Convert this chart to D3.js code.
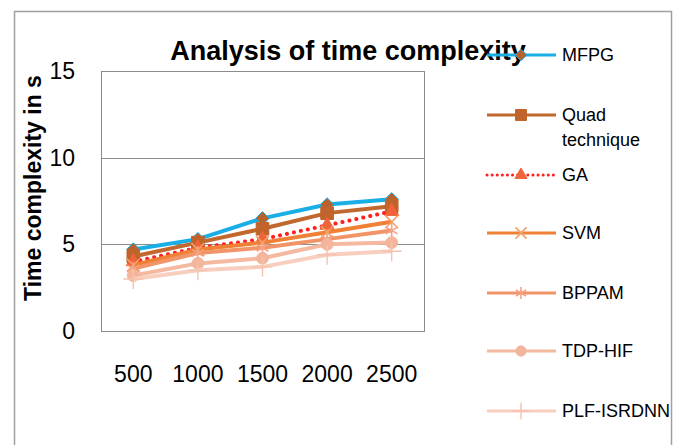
<!DOCTYPE html>
<html>
<head>
<meta charset="utf-8">
<script src="https://cdn.jsdelivr.net/npm/d3@7"></script>
<style>
body { margin: 0; background: #fff; }
text { font-family: "Liberation Sans", Arial, sans-serif; fill: #000; }
</style>
</head>
<body>
<script>
// data
var sizes = ["500", "1000", "1500", "2000", "2500"];
var yTicks = [0, 5, 10, 15];
var mfpg = [4.7, 5.3, 6.5, 7.3, 7.6];
var quad = [4.3, 5.1, 5.9, 6.8, 7.2];
var ga = [4.0, 4.8, 5.3, 6.1, 6.9];
var svm = [3.8, 4.7, 5.1, 5.7, 6.3];
var bppam = [3.6, 4.5, 4.8, 5.3, 5.8];
var tdphif = [3.2, 3.9, 4.2, 5.0, 5.1];
var plf = [3.0, 3.5, 3.7, 4.4, 4.6];
var seriesNames = ["MFPG", "Quad technique", "GA", "SVM", "BPPAM", "TDP-HIF", "PLF-ISRDNN"];

var W = 675, H = 445;
var plotL = 101, plotR = 424, plotT = 71, plotB = 331;

var svg = d3.select("body").append("svg").attr("width", W).attr("height", H);

// outer chart border
svg.append("rect").attr("x", 14.5).attr("y", 11.5).attr("width", 657).attr("height", 450)
   .attr("fill", "none").attr("stroke", "#a0a0a0").attr("stroke-width", 1.5);

var x = d3.scaleBand().domain(sizes).range([plotL, plotR]).padding(0);
var y = d3.scaleLinear().domain([0, 15]).range([plotB, plotT]);
var cx = function(d, i) { return x(sizes[i]) + x.bandwidth() / 2; };

// gridlines + plot box
svg.append("g").selectAll("line").data(yTicks).enter().append("line")
   .attr("x1", plotL).attr("x2", plotR)
   .attr("y1", function(d) { return Math.round(y(d)) + 0.5; })
   .attr("y2", function(d) { return Math.round(y(d)) + 0.5; })
   .attr("stroke", "#8c8c8c").attr("stroke-width", 1);
svg.append("line").attr("x1", plotL + 0.5).attr("x2", plotL + 0.5).attr("y1", plotT).attr("y2", plotB + 1)
   .attr("stroke", "#8c8c8c");
svg.append("line").attr("x1", plotR + 0.5).attr("x2", plotR + 0.5).attr("y1", plotT).attr("y2", plotB + 1)
   .attr("stroke", "#8c8c8c");

// axes
var yAxis = svg.append("g").attr("transform", "translate(" + plotL + ",0)")
   .call(d3.axisLeft(y).tickValues(yTicks).tickSize(0).tickPadding(26));
yAxis.select(".domain").remove();
yAxis.selectAll("text").style("font-size", "23px").attr("fill", "#000")
     .style("font-family", "'Liberation Sans', Arial, sans-serif");

var xAxis = svg.append("g").attr("transform", "translate(0," + plotB + ")")
   .call(d3.axisBottom(x).tickSize(0).tickPadding(35));
xAxis.select(".domain").remove();
xAxis.selectAll("text").style("font-size", "23px").attr("fill", "#000")
     .style("font-family", "'Liberation Sans', Arial, sans-serif");

// titles
svg.append("text").attr("x", 348).attr("y", 60).attr("text-anchor", "middle")
   .style("font-size", "27px").style("font-weight", "bold").text("Analysis of time complexity");
svg.append("text").attr("transform", "translate(41,188) rotate(-90)").attr("text-anchor", "middle")
   .style("font-size", "23px").style("font-weight", "bold").text("Time complexity in s");

var series = [
  { name: seriesNames[0], values: mfpg, line: "#1aaee6", dash: null, sym: d3.symbolDiamond2, size: 115, fill: "#b8622c", stroke: "#1aaee6", sw: 1 },
  { name: seriesNames[1], values: quad, line: "#c0682e", dash: null, sym: d3.symbolSquare, size: 160, fill: "#c0642b", stroke: "#c0642b", sw: 1 },
  { name: seriesNames[2], values: ga, line: "#ff2020", dash: "0.1 7", sym: d3.symbolTriangle, size: 85, fill: "#f0643a", stroke: "#f0643a", sw: 1 },
  { name: seriesNames[3], values: svm, line: "#ef8036", dash: null, sym: d3.symbolX, size: 110, fill: "none", stroke: "#f4a06a", sw: 1.6 },
  { name: seriesNames[4], values: bppam, line: "#f19468", dash: null, sym: d3.symbolAsterisk, size: 130, fill: "none", stroke: "#f4a282", sw: 1.6 },
  { name: seriesNames[5], values: tdphif, line: "#f5b9a0", dash: null, sym: d3.symbolCircle, size: 110, fill: "#f3b69c", stroke: "#f3b69c", sw: 1 },
  { name: seriesNames[6], values: plf, line: "#f8cfbf", dash: null, sym: d3.symbolPlus, size: 130, fill: "none", stroke: "#f6c2ae", sw: 1.4 }
];

var lineGen = d3.line().x(cx).y(function(d) { return y(d); });

series.forEach(function(s) {
  var g = svg.append("g");
  g.append("path").datum(s.values).attr("d", lineGen)
   .attr("fill", "none").attr("stroke", s.line).attr("stroke-width", 4)
   .attr("stroke-linecap", s.dash ? "round" : "butt")
   .attr("stroke-dasharray", s.dash);
  g.selectAll("path.mark").data(s.values).enter().append("path").attr("class", "mark")
   .attr("transform", function(d, i) { return "translate(" + cx(d, i) + "," + y(d) + ")"; })
   .attr("d", d3.symbol().type(s.sym).size(s.size))
   .attr("fill", s.fill).attr("stroke", s.stroke).attr("stroke-width", s.sw);
});

// legend
var legendY = [55, 115, 175, 233, 293, 351, 411];
var lg = svg.append("g").selectAll("g").data(series).enter().append("g")
   .attr("transform", function(d, i) { return "translate(0," + legendY[i] + ")"; });
lg.append("line").attr("x1", 487).attr("x2", 556).attr("y1", 0).attr("y2", 0)
  .attr("stroke", function(d) { return d.line; }).attr("stroke-width", 3)
  .attr("stroke-linecap", function(d) { return d.dash ? "round" : "butt"; })
  .attr("stroke-dasharray", function(d) { return d.dash ? "0.1 5" : null; });
lg.append("path").attr("transform", "translate(521,0)")
  .attr("d", function(d) { return d3.symbol().type(d.sym).size(d.size * 0.75)(); })
  .attr("fill", function(d) { return d.fill; }).attr("stroke", function(d) { return d.stroke; })
  .attr("stroke-width", function(d) { return d.sw; });
lg.each(function(d) {
  var words = d.name === "Quad technique" ? ["Quad", "technique"] : [d.name];
  var t = d3.select(this).append("text").attr("x", 562).attr("y", 0)
     .style("font-size", "18px");
  words.forEach(function(w, k) {
    t.append("tspan").attr("x", 562).attr("dy", k === 0 ? "0.35em" : "1.4em").text(w);
  });
});
</script>
</body>
</html>
